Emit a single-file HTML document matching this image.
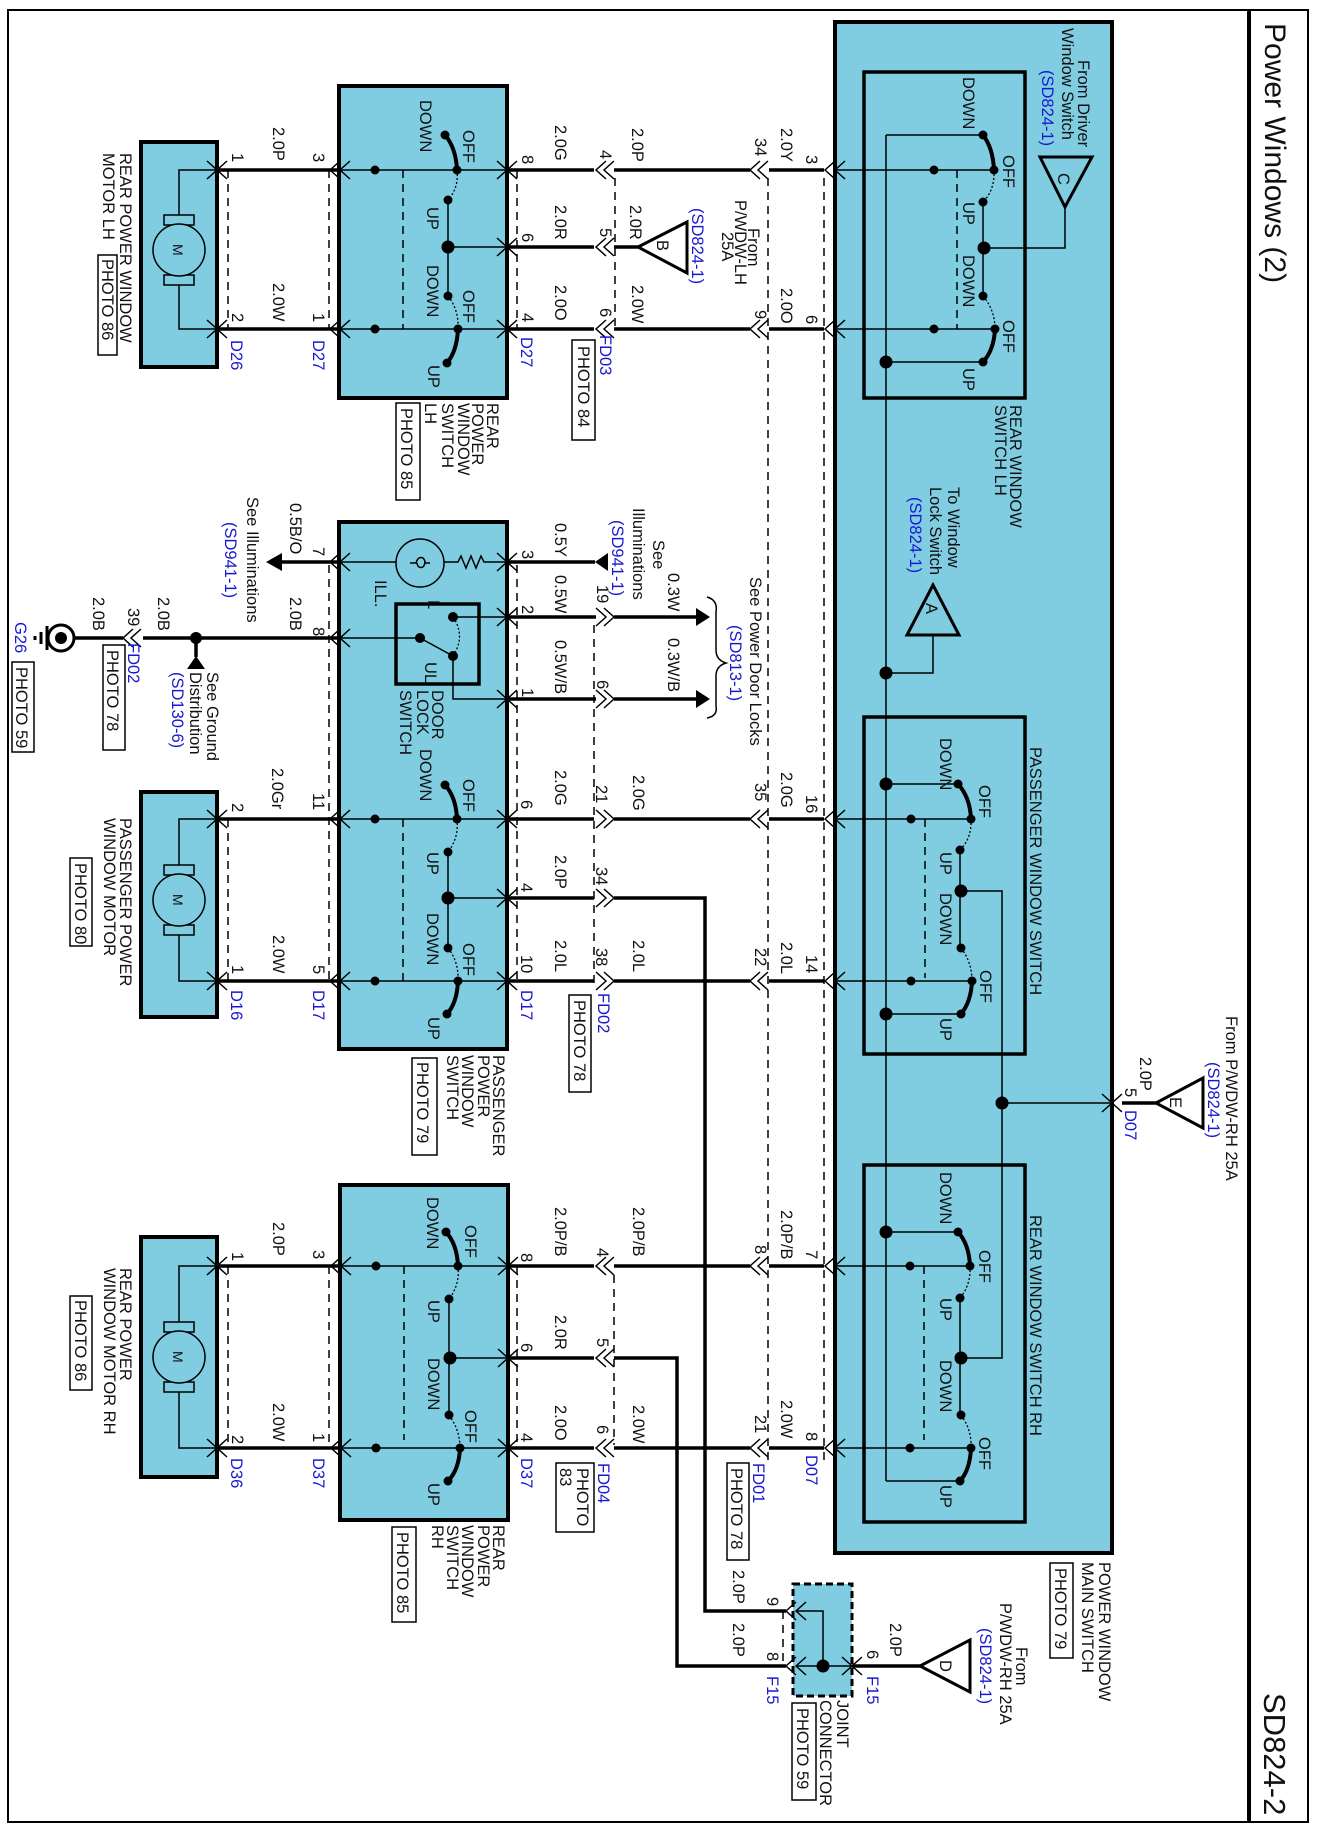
<!DOCTYPE html>
<html><head><meta charset="utf-8">
<style>
html,body{margin:0;padding:0;background:#fff;}
svg{display:block;}
text{font-family:"Liberation Sans",Arial,sans-serif;font-size:16.5px;fill:#111;}
.b{fill:#1818d0;}
.w{stroke:#000;stroke-width:3.5;fill:none;}
.t{stroke:#000;stroke-width:1.5;fill:none;}
.d{stroke:#000;stroke-width:1.5;fill:none;stroke-dasharray:8,6;}
.bx{fill:#80cde2;stroke:#000;stroke-width:4;}
.ib{fill:none;stroke:#000;stroke-width:3.5;}
.lv{stroke:#000;stroke-width:4;fill:none;stroke-linecap:round;}
.dt{stroke:#000;stroke-width:1.3;fill:none;stroke-dasharray:2,2;}
.pb{fill:#fff;stroke:#000;stroke-width:1.5;}
</style></head>
<body>
<svg width="1317" height="1830" viewBox="0 0 1317 1830" xmlns="http://www.w3.org/2000/svg">
<!-- frame -->
<rect x="8" y="10" width="1300" height="1812" fill="none" stroke="#000" stroke-width="2"/>
<line x1="1249" y1="10" x2="1249" y2="1822" stroke="#000" stroke-width="4"/>
<text transform="translate(1265 23) rotate(90)" style="font-size:30px">Power Windows (2)</text>
<text transform="translate(1264 1693) rotate(90)" style="font-size:31px">SD824-2</text>

<!-- boxes -->
<rect class="bx" x="835" y="22" width="277" height="1531"/>
<rect class="ib" x="864" y="72" width="161" height="326"/>
<rect class="ib" x="864" y="717" width="161" height="337"/>
<rect class="ib" x="864" y="1165" width="161" height="357"/>
<rect class="bx" x="339" y="86" width="168" height="312"/>
<rect class="bx" x="339" y="522" width="168" height="527"/>
<rect class="bx" x="340" y="1185" width="168" height="335"/>
<rect class="bx" x="141" y="142" width="76" height="225"/>
<rect class="bx" x="141" y="792" width="76" height="225"/>
<rect class="bx" x="141" y="1237" width="76" height="240"/>
<rect x="793" y="1584" width="59" height="112" fill="#80cde2" stroke="#000" stroke-width="3" stroke-dasharray="7,4"/>

<!-- long dashed connector lines -->
<g class="d">
<line x1="768" y1="178" x2="768" y2="1460"/>
<line x1="824" y1="178" x2="824" y2="1465"/>
<line x1="615" y1="178" x2="615" y2="329"/>
<line x1="594" y1="625" x2="594" y2="985"/>
<line x1="614" y1="1275" x2="614" y2="1445"/>
<line x1="517" y1="170" x2="517" y2="330"/><line x1="517" y1="565" x2="517" y2="985"/><line x1="517" y1="1266" x2="517" y2="1448"/>
<line x1="329" y1="170" x2="329" y2="329"/><line x1="329" y1="565" x2="329" y2="981"/><line x1="329" y1="1266" x2="329" y2="1448"/>
<line x1="228" y1="170" x2="228" y2="329"/><line x1="228" y1="819" x2="228" y2="981"/><line x1="228" y1="1266" x2="228" y2="1448"/>
<line x1="783" y1="1611" x2="783" y2="1666"/>
</g>

<!-- thick external wires -->
<g class="w">
<path d="M217 170H339M507 170H594M614 170H750M769 170H824"/>
<path d="M217 329H339M507 329H594M614 329H750M769 329H824"/>
<path d="M507 247H594M614 247H638"/>
<path d="M339 562H276M507 562H595"/>
<path d="M507 617H596M614 617H697M507 699H596M614 699H697"/>
<path d="M339 638H143M123 638H74M196 638V657"/>
<path d="M217 819H339M507 819H594M614 819H750M769 819H824"/>
<path d="M217 981H339M507 981H594M614 981H750M769 981H824"/>
<path d="M507 898H594M614 898H705V1611H786"/>
<path d="M217 1266H340M508 1266H594M614 1266H750M769 1266H824"/>
<path d="M217 1448H340M508 1448H594M614 1448H750M769 1448H824"/>
<path d="M508 1358H594M614 1358H677V1666H786"/>
<path d="M1122 1103H1156M852 1666H920"/>
</g>

<!-- triangles / arrows -->
<g fill="#000">
<polygon points="266,562 282,553 282,571"/>
<polygon points="595,562 608,553 608,571"/>
<polygon points="710,617 696,608 696,626"/>
<polygon points="710,699 696,690 696,708"/>
<polygon points="196,656 187,669 205,669"/>
<circle cx="196" cy="638" r="6"/>
</g>
<g fill="none" stroke="#000" stroke-width="3">
<polygon points="638,247 687,222 687,273"/>
<polygon points="1040,157 1092,157 1065,207"/>
<polygon points="933,585 907,635 959,635"/>
<polygon points="1156,1103 1203,1078 1203,1128"/>
<polygon points="920,1666 970,1640 970,1692"/>
</g>
<text transform="translate(657 240) rotate(90)">B</text>
<text transform="translate(1058 173) rotate(90)">C</text>
<text transform="translate(926 603) rotate(90)">A</text>
<text transform="translate(1170 1097) rotate(90)">E</text>
<text transform="translate(940 1660) rotate(90)">D</text>
<path class="t" d="M1065 207V248H984M933 635V673H886"/>

<!-- brace -->
<path d="M707 597 Q718 600 716 612 L716 650 Q716 660 726 663 Q716 666 716 676 L716 706 Q718 716 707 718" fill="none" stroke="#000" stroke-width="1.5"/>

<!-- ground symbol -->
<circle cx="61" cy="638" r="13" fill="none" stroke="#000" stroke-width="3"/>
<circle cx="61" cy="638" r="6" fill="#000"/>
<path d="M47 626V650M41 632V644M35 636V640" stroke="#000" stroke-width="3"/>

<!-- chevrons -->
<g class="t">
<path d="M207 161L217 170L207 179M227 161L217 170L227 179"/>
<path d="M207 320L217 329L207 338M227 320L217 329L227 338"/>
<path d="M207 810L217 819L207 828M227 810L217 819L227 828"/>
<path d="M207 972L217 981L207 990M227 972L217 981L227 990"/>
<path d="M207 1257L217 1266L207 1275M227 1257L217 1266L227 1275"/>
<path d="M207 1439L217 1448L207 1457M227 1439L217 1448L227 1457"/>
<path d="M340 161L330 170L340 179M350 161L340 170L350 179"/>
<path d="M340 320L330 329L340 338M350 320L340 329L350 338"/>
<path d="M340 553L330 562L340 571M350 553L340 562L350 571"/>
<path d="M340 629L330 638L340 647M350 629L340 638L350 647"/>
<path d="M340 810L330 819L340 828M350 810L340 819L350 828"/>
<path d="M340 972L330 981L340 990M350 972L340 981L350 990"/>
<path d="M341 1257L331 1266L341 1275M351 1257L341 1266L351 1275"/>
<path d="M341 1439L331 1448L341 1457M351 1439L341 1448L351 1457"/>
<path d="M497 161L507 170L497 179M517 161L507 170L517 179"/>
<path d="M497 238L507 247L497 256M517 238L507 247L517 256"/>
<path d="M497 320L507 329L497 338M517 320L507 329L517 338"/>
<path d="M497 553L507 562L497 571M517 553L507 562L517 571"/>
<path d="M497 608L507 617L497 626M517 608L507 617L517 626"/>
<path d="M497 690L507 699L497 708M517 690L507 699L517 708"/>
<path d="M497 810L507 819L497 828M517 810L507 819L517 828"/>
<path d="M497 889L507 898L497 907M517 889L507 898L517 907"/>
<path d="M497 972L507 981L497 990M517 972L507 981L517 990"/>
<path d="M498 1257L508 1266L498 1275M518 1257L508 1266L518 1275"/>
<path d="M498 1349L508 1358L498 1367M518 1349L508 1358L518 1367"/>
<path d="M498 1439L508 1448L498 1457M518 1439L508 1448L518 1457"/>
<path d="M606 161L596 170L606 179M614 161L604 170L614 179"/>
<path d="M606 238L596 247L606 256M614 238L604 247L614 256"/>
<path d="M606 320L596 329L606 338M614 320L604 329L614 338"/>
<path d="M606 1257L596 1266L606 1275M614 1257L604 1266L614 1275"/>
<path d="M606 1349L596 1358L606 1367M614 1349L604 1358L614 1367"/>
<path d="M606 1439L596 1448L606 1457M614 1439L604 1448L614 1457"/>
<path d="M596 608L606 617L596 626M604 608L614 617L604 626"/>
<path d="M596 690L606 699L596 708M604 690L614 699L604 708"/>
<path d="M596 810L606 819L596 828M604 810L614 819L604 828"/>
<path d="M596 889L606 898L596 907M604 889L614 898L604 907"/>
<path d="M596 972L606 981L596 990M604 972L614 981L604 990"/>
<path d="M133 629L123 638L133 647M141 629L131 638L141 647"/>
<path d="M760 161L750 170L760 179M768 161L758 170L768 179"/>
<path d="M760 320L750 329L760 338M768 320L758 329L768 338"/>
<path d="M760 810L750 819L760 828M768 810L758 819L768 828"/>
<path d="M760 972L750 981L760 990M768 972L758 981L768 990"/>
<path d="M760 1257L750 1266L760 1275M768 1257L758 1266L768 1275"/>
<path d="M760 1439L750 1448L760 1457M768 1439L758 1448L768 1457"/>
<path d="M835 161L825 170L835 179M845 161L835 170L845 179"/>
<path d="M835 320L825 329L835 338M845 320L835 329L845 338"/>
<path d="M835 810L825 819L835 828M845 810L835 819L845 828"/>
<path d="M835 972L825 981L835 990M845 972L835 981L845 990"/>
<path d="M835 1257L825 1266L835 1275M845 1257L835 1266L845 1275"/>
<path d="M835 1439L825 1448L835 1457M845 1439L835 1448L845 1457"/>
<path d="M1102 1094L1112 1103L1102 1112M1122 1094L1112 1103L1122 1112"/>
<path d="M796 1602L786 1611L796 1620M806 1602L796 1611L806 1620"/>
<path d="M796 1657L786 1666L796 1675M806 1657L796 1666L806 1675"/>
<path d="M842 1657L852 1666L842 1675M862 1657L852 1666L862 1675"/>
</g>

<!-- motors -->
<g>
<path class="t" d="M217 170H179V215M179 285V329H217"/>
<rect x="164" y="215" width="30" height="10" fill="#80cde2" stroke="#000" stroke-width="1.5"/>
<rect x="164" y="275" width="30" height="10" fill="#80cde2" stroke="#000" stroke-width="1.5"/>
<circle cx="179" cy="250" r="26" fill="#80cde2" stroke="#000" stroke-width="1.5"/>
<text transform="translate(173 244) rotate(90)" style="font-size:14px">M</text>

<path class="t" d="M217 819H179V865M179 935V981H217"/>
<rect x="164" y="865" width="30" height="10" fill="#80cde2" stroke="#000" stroke-width="1.5"/>
<rect x="164" y="925" width="30" height="10" fill="#80cde2" stroke="#000" stroke-width="1.5"/>
<circle cx="179" cy="900" r="26" fill="#80cde2" stroke="#000" stroke-width="1.5"/>
<text transform="translate(173 894) rotate(90)" style="font-size:14px">M</text>

<path class="t" d="M217 1266H179V1322M179 1392V1448H217"/>
<rect x="164" y="1322" width="30" height="10" fill="#80cde2" stroke="#000" stroke-width="1.5"/>
<rect x="164" y="1382" width="30" height="10" fill="#80cde2" stroke="#000" stroke-width="1.5"/>
<circle cx="179" cy="1357" r="26" fill="#80cde2" stroke="#000" stroke-width="1.5"/>
<text transform="translate(173 1351) rotate(90)" style="font-size:14px">M</text>
</g>

<!-- external switch units -->
<g>
<path class="t" d="M340 170H507M340 329H507M448 200V296M448 247H507"/>
<line class="d" x1="403" y1="170" x2="403" y2="329"/>
<path class="lv" d="M457 170Q456 148 445 135"/><path class="lv" d="M458 329Q457 351 447 363"/>
<path class="dt" d="M457 170Q459 188 448 200M448 296Q459 310 458 329"/>
<g fill="#000"><circle cx="375" cy="170" r="4.5"/><circle cx="375" cy="329" r="4.5"/><circle cx="457" cy="170" r="4.5"/><circle cx="445" cy="135" r="4.5"/><circle cx="448" cy="200" r="4.5"/><circle cx="448" cy="247" r="6.5"/><circle cx="448" cy="296" r="4.5"/><circle cx="458" cy="329" r="4.5"/><circle cx="447" cy="363" r="4.5"/></g>
<path class="t" d="M340 819H507M340 981H507M448 852V948M448 898H507"/>
<line class="d" x1="403" y1="819" x2="403" y2="981"/>
<path class="lv" d="M457 819Q456 797 445 785"/><path class="lv" d="M458 981Q457 1003 447 1014"/>
<path class="dt" d="M457 819Q459 838 448 852M448 948Q459 962 458 981"/>
<g fill="#000"><circle cx="375" cy="819" r="4.5"/><circle cx="375" cy="981" r="4.5"/><circle cx="457" cy="819" r="4.5"/><circle cx="445" cy="785" r="4.5"/><circle cx="448" cy="852" r="4.5"/><circle cx="448" cy="898" r="6.5"/><circle cx="448" cy="948" r="4.5"/><circle cx="458" cy="981" r="4.5"/><circle cx="447" cy="1014" r="4.5"/></g>
<path class="t" d="M341 1266H508M341 1448H508M449 1299V1415M449 1358H508"/>
<line class="d" x1="404" y1="1266" x2="404" y2="1440"/>
<path class="lv" d="M458 1266Q457 1244 446 1232"/><path class="lv" d="M460 1448Q459 1470 448 1481"/>
<path class="dt" d="M458 1266Q460 1285 449 1299M449 1415Q460 1430 460 1448"/>
<g fill="#000"><circle cx="376" cy="1266" r="4.5"/><circle cx="376" cy="1448" r="4.5"/><circle cx="458" cy="1266" r="4.5"/><circle cx="446" cy="1232" r="4.5"/><circle cx="449" cy="1299" r="4.5"/><circle cx="450" cy="1358" r="6.5"/><circle cx="449" cy="1415" r="4.5"/><circle cx="460" cy="1448" r="4.5"/><circle cx="448" cy="1481" r="4.5"/></g>
</g>

<!-- main switch internals -->
<g>
<path class="t" d="M886 135V1481M983 135H886M983 362H886"/>
<path class="t" d="M958 784H886M961 1014H886M958 1232H886M960 1481H886"/>
<path class="t" d="M961 891H1002V1358H961M1002 1103H1112"/>
<path class="t" d="M835 170H994M835 329H994M983 202V296"/>
<line class="d" x1="957" y1="170" x2="957" y2="329"/>
<path class="lv" d="M994 170Q993 148 983 135"/><path class="lv" d="M995 329Q994 350 983 362"/>
<path class="dt" d="M994 170Q995 190 983 202M983 296Q995 310 995 329"/>
<g fill="#000"><circle cx="934" cy="170" r="4.5"/><circle cx="934" cy="329" r="4.5"/><circle cx="994" cy="170" r="4.5"/><circle cx="983" cy="135" r="4.5"/><circle cx="983" cy="202" r="4.5"/><circle cx="984" cy="248" r="6.5"/><circle cx="983" cy="296" r="4.5"/><circle cx="995" cy="329" r="4.5"/><circle cx="983" cy="362" r="4.5"/><circle cx="886" cy="362" r="6.5"/><circle cx="886" cy="673" r="6.5"/></g>
<path class="t" d="M835 819H971M835 981H971M960 850V948"/>
<line class="d" x1="925" y1="819" x2="925" y2="978"/>
<path class="lv" d="M971 819Q970 797 958 784"/><path class="lv" d="M972 981Q971 1002 961 1014"/>
<path class="dt" d="M971 819Q972 838 960 850M961 948Q972 962 972 981"/>
<g fill="#000"><circle cx="911" cy="819" r="4.5"/><circle cx="911" cy="981" r="4.5"/><circle cx="971" cy="819" r="4.5"/><circle cx="958" cy="784" r="4.5"/><circle cx="960" cy="850" r="4.5"/><circle cx="961" cy="891" r="6.5"/><circle cx="961" cy="948" r="4.5"/><circle cx="972" cy="981" r="4.5"/><circle cx="961" cy="1014" r="4.5"/><circle cx="886" cy="784" r="6.5"/><circle cx="886" cy="1014" r="6.5"/><circle cx="1002" cy="1103" r="6.5"/></g>
<path class="t" d="M835 1266H970M835 1448H971M960 1298V1415"/>
<line class="d" x1="924" y1="1266" x2="924" y2="1440"/>
<path class="lv" d="M970 1266Q969 1244 958 1232"/><path class="lv" d="M971 1448Q970 1470 960 1481"/>
<path class="dt" d="M970 1266Q971 1285 960 1298M961 1415Q972 1430 971 1448"/>
<g fill="#000"><circle cx="910" cy="1266" r="4.5"/><circle cx="910" cy="1448" r="4.5"/><circle cx="970" cy="1266" r="4.5"/><circle cx="958" cy="1232" r="4.5"/><circle cx="960" cy="1298" r="4.5"/><circle cx="961" cy="1358" r="6.5"/><circle cx="961" cy="1415" r="4.5"/><circle cx="971" cy="1448" r="4.5"/><circle cx="960" cy="1481" r="4.5"/><circle cx="886" cy="1232" r="6.5"/></g>
</g>

<!-- door lock / illumination internals -->
<g>
<path class="t" d="M340 562H396M444 562H458L461 556L466 568L471 556L476 568L481 556L484 562H507"/>
<circle cx="420" cy="563" r="24" fill="none" stroke="#000" stroke-width="1.5"/>
<path class="t" d="M410 563H416Q418 556 423 558Q427 562 423 567Q418 569 417 563M424 563H430"/>
<rect x="396" y="604" width="83" height="80" fill="none" stroke="#000" stroke-width="3.5"/>
<path class="t" d="M453 617H507M340 638H420L453 656M453 656V699H507"/>
<path class="dt" d="M453 617Q466 636 453 656"/>
<g fill="#000"><circle cx="453" cy="617" r="5"/><circle cx="420" cy="638" r="5"/><circle cx="453" cy="656" r="5"/></g>
</g>

<!-- joint connector internals -->
<path class="t" d="M796 1611H823V1666M796 1666H852"/>
<circle cx="823" cy="1666" r="6.5" fill="#000"/>

<!-- photo boxes -->
<g class="pb">
<rect x="572" y="340" width="23" height="100"/>
<rect x="98" y="255" width="19" height="100"/>
<rect x="396" y="403" width="24" height="97"/>
<rect x="103" y="645" width="22" height="105"/>
<rect x="12" y="662" width="22" height="90"/>
<rect x="569" y="995" width="22" height="97"/>
<rect x="70" y="858" width="22" height="88"/>
<rect x="412" y="1058" width="25" height="97"/>
<rect x="556" y="1463" width="38" height="69"/>
<rect x="727" y="1463" width="22" height="97"/>
<rect x="70" y="1296" width="22" height="94"/>
<rect x="392" y="1527" width="24" height="95"/>
<rect x="1050" y="1563" width="23" height="95"/>
<rect x="792" y="1703" width="24" height="97"/>
</g>

<!-- ===== TEXT ===== -->
<g>
<text transform="translate(232 153) rotate(90)">1</text>
<text transform="translate(273 127) rotate(90)">2.0P</text>
<text transform="translate(313 153) rotate(90)">3</text>
<text transform="translate(232 313) rotate(90)">2</text>
<text transform="translate(273 283) rotate(90)">2.0W</text>
<text transform="translate(313 313) rotate(90)">1</text>
<text class="b" transform="translate(231 340) rotate(90)">D26</text>
<text class="b" transform="translate(313 340) rotate(90)">D27</text>
<text transform="translate(522 155) rotate(90)">8</text>
<text transform="translate(522 233) rotate(90)">6</text>
<text transform="translate(522 313) rotate(90)">4</text>
<text class="b" transform="translate(521 337) rotate(90)">D27</text>
<text transform="translate(555 125) rotate(90)">2.0G</text>
<text transform="translate(555 205) rotate(90)">2.0R</text>
<text transform="translate(555 285) rotate(90)">2.0O</text>
<text transform="translate(600 150) rotate(90)">4</text>
<text transform="translate(600 228) rotate(90)">5</text>
<text transform="translate(600 308) rotate(90)">6</text>
<text class="b" transform="translate(600 335) rotate(90)">FD03</text>
<text transform="translate(578 346) rotate(90)">PHOTO 84</text>
<text transform="translate(632 128) rotate(90)">2.0P</text>
<text transform="translate(630 205) rotate(90)">2.0R</text>
<text transform="translate(632 285) rotate(90)">2.0W</text>
<text transform="translate(748 228) rotate(90)">From</text>
<text transform="translate(735 200) rotate(90)">P/WDW-LH</text>
<text transform="translate(722 232) rotate(90)">25A</text>
<text class="b" transform="translate(692 208) rotate(90)">(SD824-1)</text>
<text transform="translate(755 138) rotate(90)">34</text>
<text transform="translate(755 310) rotate(90)">9</text>
<text transform="translate(781 128) rotate(90)">2.0Y</text>
<text transform="translate(781 288) rotate(90)">2.0O</text>
<text transform="translate(806 155) rotate(90)">3</text>
<text transform="translate(806 315) rotate(90)">6</text>
<text transform="translate(120 153) rotate(90)">REAR POWER WINDOW</text>
<text transform="translate(103 153) rotate(90)">MOTOR LH</text>
<text transform="translate(102 259) rotate(90)">PHOTO 86</text>
<text transform="translate(487 403) rotate(90)">REAR</text>
<text transform="translate(472 403) rotate(90)">POWER</text>
<text transform="translate(458 403) rotate(90)">WINDOW</text>
<text transform="translate(442 403) rotate(90)">SWITCH</text>
<text transform="translate(425 403) rotate(90)">LH</text>
<text transform="translate(401 408) rotate(90)">PHOTO 85</text>
<text transform="translate(420 100) rotate(90)">DOWN</text>
<text transform="translate(463 130) rotate(90)">OFF</text>
<text transform="translate(427 207) rotate(90)">UP</text>
<text transform="translate(427 265) rotate(90)">DOWN</text>
<text transform="translate(463 290) rotate(90)">OFF</text>
<text transform="translate(428 365) rotate(90)">UP</text>

<text transform="translate(963 77) rotate(90)">DOWN</text>
<text transform="translate(1003 155) rotate(90)">OFF</text>
<text transform="translate(963 202) rotate(90)">UP</text>
<text transform="translate(963 255) rotate(90)">DOWN</text>
<text transform="translate(1003 320) rotate(90)">OFF</text>
<text transform="translate(963 368) rotate(90)">UP</text>
<text transform="translate(1010 405) rotate(90)">REAR WINDOW</text>
<text transform="translate(995 405) rotate(90)">SWITCH LH</text>
<text transform="translate(1078 60) rotate(90)">From Driver</text>
<text transform="translate(1062 28) rotate(90)">Window Switch</text>
<text class="b" transform="translate(1042 70) rotate(90)">(SD824-1)</text>

<text transform="translate(313 547) rotate(90)">7</text>
<text transform="translate(290 503) rotate(90)">0.5B/O</text>
<text transform="translate(247 497) rotate(90)">See Illuminations</text>
<text class="b" transform="translate(225 522) rotate(90)">(SD941-1)</text>
<text transform="translate(313 627) rotate(90)">8</text>
<text transform="translate(290 597) rotate(90)">2.0B</text>
<text transform="translate(158 597) rotate(90)">2.0B</text>
<text transform="translate(128 608) rotate(90)">39</text>
<text transform="translate(93 597) rotate(90)">2.0B</text>
<text class="b" transform="translate(128 643) rotate(90)">FD02</text>
<text transform="translate(107 650) rotate(90)">PHOTO 78</text>
<text transform="translate(207 672) rotate(90)">See Ground</text>
<text transform="translate(190 672) rotate(90)">Distribution</text>
<text class="b" transform="translate(172 672) rotate(90)">(SD130-6)</text>
<text class="b" transform="translate(15 622) rotate(90)">G26</text>
<text transform="translate(16 667) rotate(90)">PHOTO 59</text>
<text transform="translate(375 580) rotate(90)">ILL.</text>
<text transform="translate(428 600) rotate(90)">L</text>
<text transform="translate(425 662) rotate(90)">UL</text>
<text transform="translate(432 690) rotate(90)">DOOR</text>
<text transform="translate(417 690) rotate(90)">LOCK</text>
<text transform="translate(400 690) rotate(90)">SWITCH</text>
<text transform="translate(522 550) rotate(90)">3</text>
<text transform="translate(522 605) rotate(90)">2</text>
<text transform="translate(522 688) rotate(90)">1</text>
<text transform="translate(555 523) rotate(90)">0.5Y</text>
<text transform="translate(555 575) rotate(90)">0.5W</text>
<text transform="translate(555 640) rotate(90)">0.5W/B</text>
<text transform="translate(597 585) rotate(90)">19</text>
<text transform="translate(597 680) rotate(90)">6</text>
<text transform="translate(668 573) rotate(90)">0.3W</text>
<text transform="translate(668 638) rotate(90)">0.3W/B</text>
<text transform="translate(653 540) rotate(90)">See</text>
<text transform="translate(633 508) rotate(90)">Illuminations</text>
<text class="b" transform="translate(612 520) rotate(90)">(SD941-1)</text>
<text transform="translate(750 577) rotate(90)">See Power Door Locks</text>
<text class="b" transform="translate(730 625) rotate(90)">(SD813-1)</text>
<text transform="translate(948 487) rotate(90)">To Window</text>
<text transform="translate(930 487) rotate(90)">Lock Switch</text>
<text class="b" transform="translate(910 497) rotate(90)">(SD824-1)</text>

<text transform="translate(232 803) rotate(90)">2</text>
<text transform="translate(272 768) rotate(90)">2.0Gr</text>
<text transform="translate(313 793) rotate(90)">11</text>
<text transform="translate(232 965) rotate(90)">1</text>
<text transform="translate(273 935) rotate(90)">2.0W</text>
<text transform="translate(313 965) rotate(90)">5</text>
<text class="b" transform="translate(231 990) rotate(90)">D16</text>
<text class="b" transform="translate(313 990) rotate(90)">D17</text>
<text transform="translate(521 800) rotate(90)">6</text>
<text transform="translate(521 883) rotate(90)">4</text>
<text transform="translate(521 955) rotate(90)">10</text>
<text class="b" transform="translate(521 990) rotate(90)">D17</text>
<text transform="translate(555 770) rotate(90)">2.0G</text>
<text transform="translate(555 855) rotate(90)">2.0P</text>
<text transform="translate(555 940) rotate(90)">2.0L</text>
<text transform="translate(596 785) rotate(90)">21</text>
<text transform="translate(596 867) rotate(90)">34</text>
<text transform="translate(596 948) rotate(90)">38</text>
<text class="b" transform="translate(598 993) rotate(90)">FD02</text>
<text transform="translate(574 1000) rotate(90)">PHOTO 78</text>
<text transform="translate(633 775) rotate(90)">2.0G</text>
<text transform="translate(633 940) rotate(90)">2.0L</text>
<text transform="translate(806 795) rotate(90)">16</text>
<text transform="translate(781 772) rotate(90)">2.0G</text>
<text transform="translate(755 783) rotate(90)">35</text>
<text transform="translate(806 955) rotate(90)">14</text>
<text transform="translate(781 942) rotate(90)">2.0L</text>
<text transform="translate(755 948) rotate(90)">22</text>
<text transform="translate(120 818) rotate(90)">PASSENGER POWER</text>
<text transform="translate(104 818) rotate(90)">WINDOW MOTOR</text>
<text transform="translate(75 863) rotate(90)">PHOTO 80</text>
<text transform="translate(493 1055) rotate(90)">PASSENGER</text>
<text transform="translate(478 1055) rotate(90)">POWER</text>
<text transform="translate(462 1055) rotate(90)">WINDOW</text>
<text transform="translate(447 1055) rotate(90)">SWITCH</text>
<text transform="translate(417 1062) rotate(90)">PHOTO 79</text>
<text transform="translate(420 749) rotate(90)">DOWN</text>
<text transform="translate(463 779) rotate(90)">OFF</text>
<text transform="translate(427 852) rotate(90)">UP</text>
<text transform="translate(427 913) rotate(90)">DOWN</text>
<text transform="translate(463 943) rotate(90)">OFF</text>
<text transform="translate(428 1017) rotate(90)">UP</text>
<text transform="translate(940 738) rotate(90)">DOWN</text>
<text transform="translate(979 785) rotate(90)">OFF</text>
<text transform="translate(940 852) rotate(90)">UP</text>
<text transform="translate(940 893) rotate(90)">DOWN</text>
<text transform="translate(980 970) rotate(90)">OFF</text>
<text transform="translate(940 1018) rotate(90)">UP</text>
<text transform="translate(1030 747) rotate(90)">PASSENGER WINDOW SWITCH</text>
<text transform="translate(1125 1088) rotate(90)">5</text>
<text class="b" transform="translate(1125 1110) rotate(90)">D07</text>
<text transform="translate(1140 1057) rotate(90)">2.0P</text>
<text transform="translate(1226 1016) rotate(90)">From P/WDW-RH 25A</text>
<text class="b" transform="translate(1208 1062) rotate(90)">(SD824-1)</text>

<text transform="translate(232 1252) rotate(90)">1</text>
<text transform="translate(273 1222) rotate(90)">2.0P</text>
<text transform="translate(313 1250) rotate(90)">3</text>
<text transform="translate(232 1435) rotate(90)">2</text>
<text transform="translate(273 1403) rotate(90)">2.0W</text>
<text transform="translate(313 1433) rotate(90)">1</text>
<text class="b" transform="translate(231 1458) rotate(90)">D36</text>
<text class="b" transform="translate(313 1458) rotate(90)">D37</text>
<text transform="translate(521 1253) rotate(90)">8</text>
<text transform="translate(521 1343) rotate(90)">6</text>
<text transform="translate(521 1433) rotate(90)">4</text>
<text class="b" transform="translate(521 1458) rotate(90)">D37</text>
<text transform="translate(555 1207) rotate(90)">2.0P/B</text>
<text transform="translate(555 1315) rotate(90)">2.0R</text>
<text transform="translate(555 1405) rotate(90)">2.0O</text>
<text transform="translate(597 1248) rotate(90)">4</text>
<text transform="translate(597 1338) rotate(90)">5</text>
<text transform="translate(597 1425) rotate(90)">6</text>
<text class="b" transform="translate(598 1463) rotate(90)">FD04</text>
<text transform="translate(577 1468) rotate(90)">PHOTO</text>
<text transform="translate(560 1468) rotate(90)">83</text>
<text transform="translate(633 1207) rotate(90)">2.0P/B</text>
<text transform="translate(633 1405) rotate(90)">2.0W</text>
<text transform="translate(755 1245) rotate(90)">8</text>
<text transform="translate(755 1415) rotate(90)">21</text>
<text transform="translate(781 1210) rotate(90)">2.0P/B</text>
<text transform="translate(781 1400) rotate(90)">2.0W</text>
<text transform="translate(806 1250) rotate(90)">7</text>
<text transform="translate(806 1432) rotate(90)">8</text>
<text class="b" transform="translate(806 1455) rotate(90)">D07</text>
<text class="b" transform="translate(753 1463) rotate(90)">FD01</text>
<text transform="translate(731 1468) rotate(90)">PHOTO 78</text>
<text transform="translate(120 1268) rotate(90)">REAR POWER</text>
<text transform="translate(104 1268) rotate(90)">WINDOW MOTOR RH</text>
<text transform="translate(75 1300) rotate(90)">PHOTO 86</text>
<text transform="translate(493 1525) rotate(90)">REAR</text>
<text transform="translate(478 1525) rotate(90)">POWER</text>
<text transform="translate(462 1525) rotate(90)">WINDOW</text>
<text transform="translate(447 1525) rotate(90)">SWITCH</text>
<text transform="translate(432 1525) rotate(90)">RH</text>
<text transform="translate(397 1532) rotate(90)">PHOTO 85</text>
<text transform="translate(427 1197) rotate(90)">DOWN</text>
<text transform="translate(465 1225) rotate(90)">OFF</text>
<text transform="translate(428 1300) rotate(90)">UP</text>
<text transform="translate(428 1358) rotate(90)">DOWN</text>
<text transform="translate(465 1410) rotate(90)">OFF</text>
<text transform="translate(428 1483) rotate(90)">UP</text>
<text transform="translate(940 1172) rotate(90)">DOWN</text>
<text transform="translate(979 1250) rotate(90)">OFF</text>
<text transform="translate(940 1298) rotate(90)">UP</text>
<text transform="translate(940 1360) rotate(90)">DOWN</text>
<text transform="translate(979 1437) rotate(90)">OFF</text>
<text transform="translate(940 1485) rotate(90)">UP</text>
<text transform="translate(1030 1215) rotate(90)">REAR WINDOW SWITCH RH</text>
<text transform="translate(1099 1562) rotate(90)">POWER WINDOW</text>
<text transform="translate(1082 1562) rotate(90)">MAIN SWITCH</text>
<text transform="translate(1055 1568) rotate(90)">PHOTO 79</text>

<text transform="translate(767 1597) rotate(90)">9</text>
<text transform="translate(733 1570) rotate(90)">2.0P</text>
<text transform="translate(767 1652) rotate(90)">8</text>
<text transform="translate(733 1623) rotate(90)">2.0P</text>
<text class="b" transform="translate(767 1676) rotate(90)">F15</text>
<text transform="translate(867 1650) rotate(90)">6</text>
<text transform="translate(890 1623) rotate(90)">2.0P</text>
<text class="b" transform="translate(867 1676) rotate(90)">F15</text>
<text transform="translate(1016 1647) rotate(90)">From</text>
<text transform="translate(1000 1603) rotate(90)">P/WDW-RH 25A</text>
<text class="b" transform="translate(980 1628) rotate(90)">(SD824-1)</text>
<text transform="translate(837 1700) rotate(90)">JOINT</text>
<text transform="translate(820 1700) rotate(90)">CONNECTOR</text>
<text transform="translate(797 1708) rotate(90)">PHOTO 59</text>
</g>
</svg>
</body></html>
